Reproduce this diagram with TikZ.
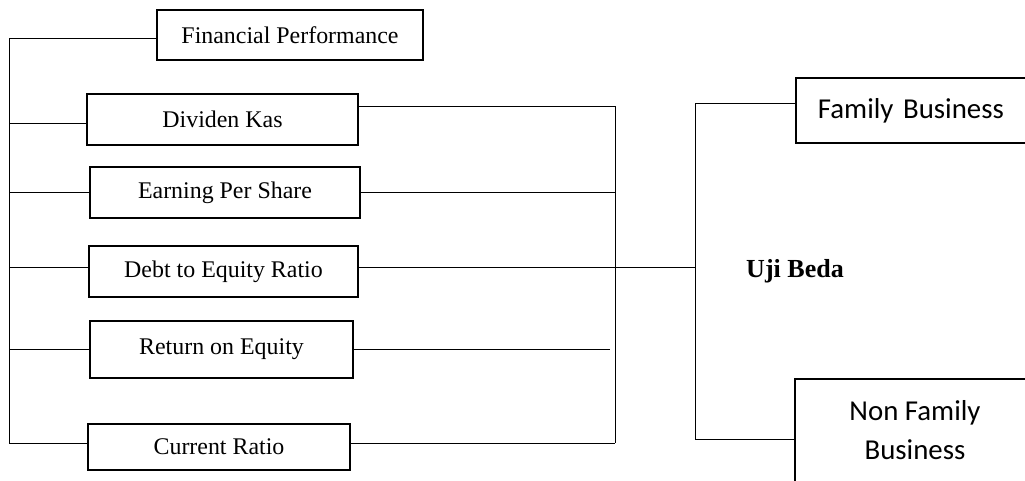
\documentclass[tikz,border=0pt]{standalone}
\usepackage{fontspec}
\setmainfont{Liberation Serif}
\newfontfamily\calibri{Carlito}

\begin{document}
\begin{tikzpicture}[x=0.025cm,y=-0.025cm,
				main node/.style = {rectangle,draw,line width=1.3pt,inner sep=0pt,font=\fontsize{17}{20}\selectfont},
				side node/.style = {rectangle,draw,line width=1.3pt,inner sep=0pt,font=\calibri\fontsize{20.5}{27.7}\selectfont},
				link/.style = {line width=0.7pt}]
				\useasboundingbox (0,0) rectangle (1025,480);
				\clip (0,0) rectangle (1025,480);
				
				\node[main node,minimum width=6.65cm,minimum height=1.25cm] (fp) at (290,35) {Financial Performance};
				\node[main node,minimum width=6.775cm,minimum height=1.275cm] (dk) at (222.5,119.5) {Dividen Kas};
				\node[main node,minimum width=6.75cm,minimum height=1.275cm] (eps) at (225,192.5) {Earning Per Share};
				\node[main node,minimum width=6.725cm,minimum height=1.275cm] (der) at (223.5,271.5) {Debt to Equity Ratio};
				\node[main node,minimum width=6.575cm,minimum height=1.425cm] (roe) at (221.5,349.5) {Return on Equity};
				\node[main node,minimum width=6.55cm,minimum height=1.15cm] (cr) at (219,447) {Current Ratio};
				
				\node[side node,anchor=west,align=left,text width=5cm,inner xsep=0.55cm,minimum height=1.625cm,text depth=0.32em] (fb) at (795,110.5) {Family Business};
				\node[side node,anchor=north,align=center,minimum width=6cm,inner ysep=0.55cm] (nfb) at (915,378) {Non Family\\Business\rule[-40pt]{0pt}{0pt}};
				\node[font=\bfseries\fontsize{18.5}{22}\selectfont] (ub) at (795,271) {Uji Beda};
				
				\coordinate (lt) at (9,38);
				\coordinate (lb) at (9,443);
				\coordinate (rt) at (615,106);
				\coordinate (rb) at (615,443);
				\coordinate (rm) at (610,267);
				\coordinate (st) at (695,103);
				\coordinate (sb) at (695,439);
				
				% left bus
				\draw[link] (lt) -- (lb);
				\draw[link] (lt) -- (lt -| fp.west);
				\draw[link] ([yshift=-2.5pt]dk.west -| lt) -- ([yshift=-2.5pt]dk.west);
				\draw[link] (eps.west -| lt) -- (eps.west);
				\draw[link] ([yshift=2.5pt]der.west -| lt) -- ([yshift=2.5pt]der.west);
				\draw[link] (roe.west -| lt) -- (roe.west);
				\draw[link] (lb) -- (lb -| cr.west);
				
				% right bus
				\draw[link] (rt) -- (rb);
				\draw[link] (dk.east |- rt) -- (rt);
				\draw[link] (eps.east) -- (eps.east -| rt);
				\draw[link] (der.east |- rm) -- (rm -| st);
				\draw[link] (roe.east) -- (roe.east -| rm);
				\draw[link] (cr.east |- rb) -- (rb);
				
				% Uji Beda
				\draw[link] (st) -- (sb);
				\draw[link] (st) -- (st -| fb.west);
				\draw[link] (sb) -- (sb -| nfb.west);
				
\end{tikzpicture}
\end{document}
